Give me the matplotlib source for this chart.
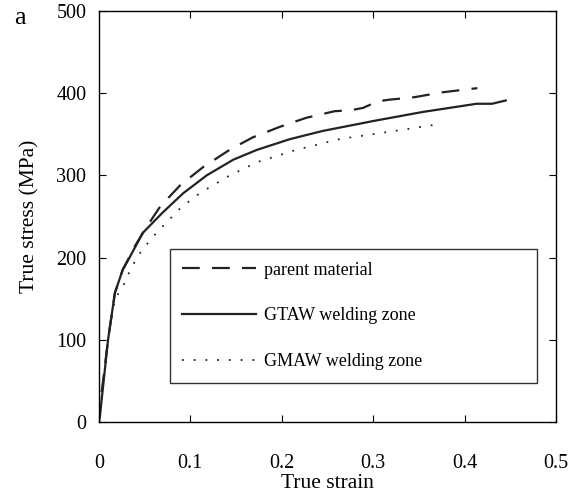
import matplotlib
matplotlib.use('Agg')
import matplotlib.pyplot as plt

plt.rcParams['font.family'] = ['Liberation Serif', 'DejaVu Serif']

# parent material (dashed)
strain_pm = [0.0, 0.001, 0.01, 0.0175, 0.026, 0.04, 0.052, 0.067, 0.089, 0.114, 0.143,
             0.168, 0.198, 0.227, 0.258, 0.275, 0.289, 0.305, 0.318, 0.345, 0.376, 0.414]
stress_pm = [0, 18, 100, 157, 185, 215, 237, 262, 288, 310, 331,
             346, 359, 370, 378, 379, 382, 390, 392, 395, 401, 406]

# GTAW welding zone (solid)
strain_gtaw = [0.0, 0.001, 0.01, 0.0175, 0.026, 0.034, 0.048, 0.070, 0.092, 0.118, 0.147,
               0.173, 0.209, 0.245, 0.30, 0.354, 0.413, 0.43, 0.445]
stress_gtaw = [0, 6, 100, 157, 185, 201, 230, 255, 278, 300, 319,
               331, 344, 354, 366, 377, 387, 387, 391]

# GMAW welding zone (dotted)
strain_gmaw = [0.0, 0.01, 0.0175, 0.026, 0.036, 0.047, 0.063, 0.089, 0.110, 0.140,
               0.173, 0.216, 0.263, 0.318, 0.365]
stress_gmaw = [0, 100, 150, 164, 189, 209, 230, 260, 278, 298,
               316, 331, 344, 353, 361]

x_ticks = [0, 0.1, 0.2, 0.3, 0.4, 0.5]
y_ticks = [0, 100, 200, 300, 400, 500]

fig = plt.figure(figsize=(5.75, 4.93), dpi=100)
ax = fig.add_axes([0.172, 0.144, 0.795, 0.834])

col = '#222222'
ax.plot(strain_pm, stress_pm, color=col, lw=1.6, ls=(0, (8, 5.5)), label='parent material')
ax.plot(strain_gtaw, stress_gtaw, color=col, lw=1.6, ls='-', label='GTAW welding zone')
ax.plot(strain_gmaw, stress_gmaw, color=col, lw=1.3, ls=(0, (1, 5.5)), label='GMAW welding zone')

ax.set_xlim(0, 0.5)
ax.set_ylim(0, 500)
ax.set_xticks(x_ticks)
ax.set_xticklabels(['0', '0.1', '0.2', '0.3', '0.4', '0.5'])
ax.set_yticks(y_ticks)
ax.tick_params(direction='in', top=True, right=True, labelsize=14.5, length=5)
ax.tick_params(axis='x', pad=23)
ax.tick_params(axis='y', pad=9)
ax.set_xlabel('True strain', fontsize=15.5, labelpad=1)
ax.set_ylabel('True stress (MPa)', fontsize=15.5, labelpad=12)
for s in ax.spines.values():
    s.set_linewidth(1.0)

leg = ax.legend(loc='lower left', bbox_to_anchor=(0.155, 0.095, 0.803, 0.331), mode='expand',
                fontsize=13, frameon=True, fancybox=False, edgecolor='black',
                handlelength=4.1, handletextpad=0.4, labelspacing=1.6,
                borderpad=0.7, borderaxespad=0)
leg.get_frame().set_linewidth(1.0)

fig.text(0.025, 0.963, 'a', fontsize=19, va='center')

fig.savefig('out.png', dpi=100)
